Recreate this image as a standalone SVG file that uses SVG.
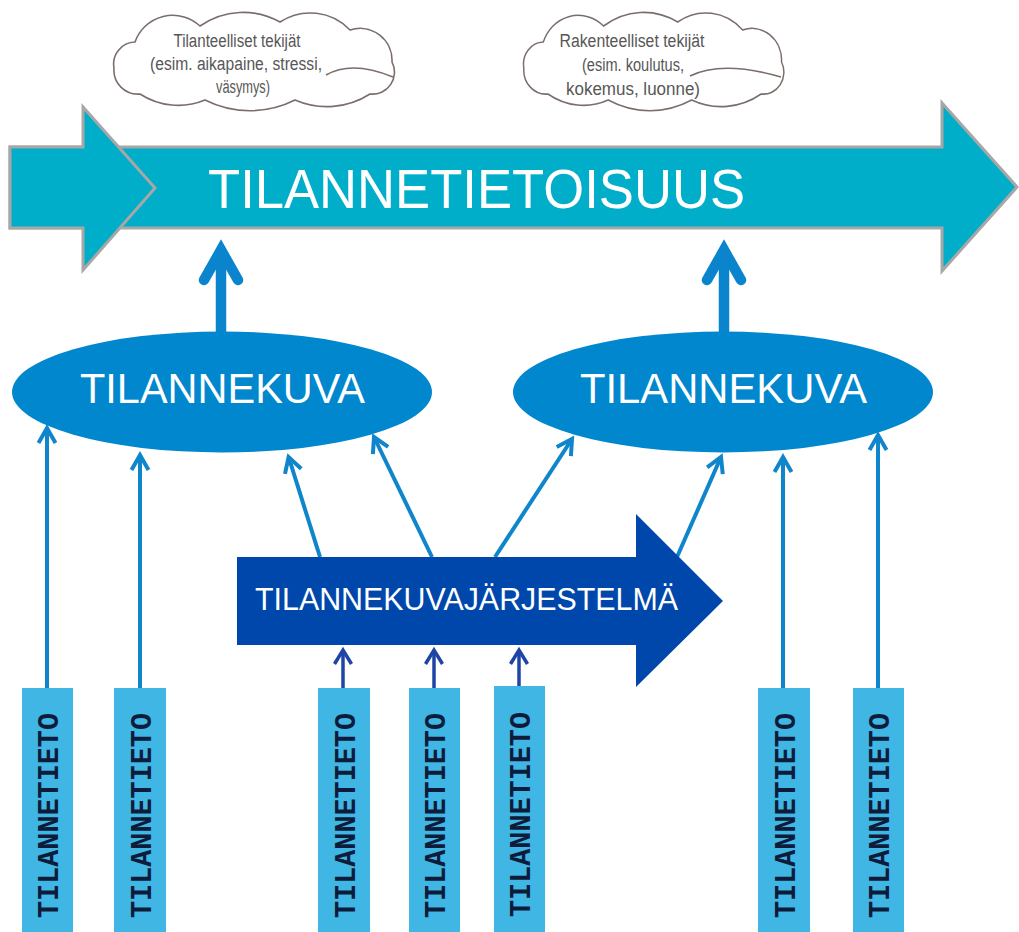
<svg xmlns="http://www.w3.org/2000/svg" width="1019" height="932" viewBox="0 0 1019 932">
<style>
.bigarrow{fill:#00AEC9;stroke:#A7A7A7;stroke-width:3;stroke-linejoin:miter}
.cloud{fill:#FFFFFF;stroke:#7A6E6A;stroke-width:1.6}
.hook{fill:none;stroke:#7A6E6A;stroke-width:1.6}
.ctext{font-family:"Liberation Sans",Arial,sans-serif;font-size:18px;fill:#575757;text-anchor:middle}
.ell{fill:#0087CD}
.wtext{font-family:"Liberation Sans",Arial,sans-serif;fill:#FFFFFF;text-anchor:middle}
.box{fill:#40B6E4}
.btext{font-family:"Liberation Mono","DejaVu Sans Mono",monospace;font-weight:bold;font-size:29px;fill:#0E1C3C;text-anchor:middle}
.thin{fill:none;stroke:#0F86CB;stroke-width:4}
.dark{fill:none;stroke:#1E44A6;stroke-width:3.5}
.thick{fill:none;stroke:#0A84CC;stroke-width:10.5}
</style>
<defs>
<marker id="mThin" markerUnits="userSpaceOnUse" markerWidth="40" markerHeight="40" refX="0" refY="0" orient="auto" overflow="visible">
<path d="M-15,-8.5 L0,0 L-15,8.5" fill="none" stroke="#0F86CB" stroke-width="4" stroke-linejoin="miter"/>
</marker>
<marker id="mDark" markerUnits="userSpaceOnUse" markerWidth="40" markerHeight="40" refX="0" refY="0" orient="auto" overflow="visible">
<path d="M-14,-8.5 L0,0 L-14,8.5" fill="none" stroke="#1E44A6" stroke-width="3.5" stroke-linejoin="miter"/>
</marker>
<path id="cloudShape" d="M23,28 A40,40 0 0 1 88,12 A75,75 0 0 1 168,8 A55,55 0 0 1 238,16 A32,32 0 0 1 280,48 A22,22 0 0 1 258,80 A80,80 0 0 1 183,86 A100,100 0 0 1 93,86 A70,70 0 0 1 28,80 A24,24 0 0 1 2,54 A22,22 0 0 1 23,28 Z"/>
</defs>

<g id="node-tilannetietoisuus">
<polygon class="bigarrow" points="10,147 942,147 942,103 1017,187 942,271 942,228 10,228"/>
<polygon class="bigarrow" points="10,147 83,147 83,107 155,188 83,270 83,228 10,228"/>
<text class="wtext" x="476.5" y="208" font-size="56" textLength="537" lengthAdjust="spacingAndGlyphs">TILANNETIETOISUUS</text>
</g>

<g id="cloud-tilanteelliset">
<use href="#cloudShape" class="cloud" transform="translate(112,14)"/>
<path class="hook" d="M326,75 Q352,60 393,77"/>
<text class="ctext" x="237" y="47" textLength="127" lengthAdjust="spacingAndGlyphs">Tilanteelliset tekijät</text>
<text class="ctext" x="236" y="70" textLength="172" lengthAdjust="spacingAndGlyphs">(esim. aikapaine, stressi,</text>
<text class="ctext" x="243" y="93" textLength="54" lengthAdjust="spacingAndGlyphs">väsymys)</text>
</g>

<g id="cloud-rakenteelliset">
<use href="#cloudShape" class="cloud" transform="translate(522,14) scale(0.927,1)" style="vector-effect:non-scaling-stroke"/>
<path class="hook" d="M690,76 Q722,60 781,77"/>
<text class="ctext" x="632" y="47" textLength="145" lengthAdjust="spacingAndGlyphs">Rakenteelliset tekijät</text>
<text class="ctext" x="633" y="71" textLength="102" lengthAdjust="spacingAndGlyphs">(esim. koulutus,</text>
<text class="ctext" x="633" y="95" textLength="134" lengthAdjust="spacingAndGlyphs">kokemus, luonne)</text>
</g>

<g id="connectors">
<line class="thick" x1="221" y1="334" x2="221" y2="252"/>
<polyline class="thick" points="204,280 221,250 238,280" stroke-linecap="round" stroke-linejoin="miter"/>
<line class="thick" x1="724" y1="334" x2="724" y2="252"/>
<polyline class="thick" points="707,280 724,250 741,280" stroke-linecap="round" stroke-linejoin="miter"/>

<line class="thin" x1="47" y1="690" x2="47" y2="428" marker-end="url(#mThin)"/>
<line class="thin" x1="140" y1="690" x2="140" y2="455" marker-end="url(#mThin)"/>
<line class="thin" x1="320" y1="557" x2="288.6" y2="457" marker-end="url(#mThin)"/>
<line class="thin" x1="432" y1="557" x2="374" y2="437" marker-end="url(#mThin)"/>
<line class="thin" x1="495" y1="557" x2="572" y2="439" marker-end="url(#mThin)"/>
<line class="thin" x1="677" y1="557" x2="721" y2="457" marker-end="url(#mThin)"/>
<line class="thin" x1="783" y1="690" x2="783" y2="457" marker-end="url(#mThin)"/>
<line class="thin" x1="878" y1="690" x2="878" y2="435" marker-end="url(#mThin)"/>

<line class="dark" x1="343" y1="690" x2="343" y2="650" marker-end="url(#mDark)"/>
<line class="dark" x1="434" y1="690" x2="434" y2="650" marker-end="url(#mDark)"/>
<line class="dark" x1="519" y1="688" x2="519" y2="650" marker-end="url(#mDark)"/>
</g>

<g id="node-tilannekuva-1">
<ellipse class="ell" cx="222" cy="392" rx="210" ry="60.5"/>
<text class="wtext" x="222.5" y="403" font-size="42" textLength="285" lengthAdjust="spacingAndGlyphs">TILANNEKUVA</text>
</g>

<g id="node-tilannekuva-2">
<ellipse class="ell" cx="723" cy="392" rx="210" ry="60.5"/>
<text class="wtext" x="723.5" y="403" font-size="42" textLength="287" lengthAdjust="spacingAndGlyphs">TILANNEKUVA</text>
</g>

<g id="node-jarjestelma">
<polygon fill="#0047AB" points="237,557 636,557 636,514 723,601 636,687 636,645 237,645"/>
<text class="wtext" x="466.5" y="610" font-size="32" textLength="423" lengthAdjust="spacingAndGlyphs">TILANNEKUVAJÄRJESTELMÄ</text>
</g>

<g id="node-tieto-1">
<rect class="box" x="22" y="688" width="51" height="244"/>
<text class="btext" transform="translate(58,815.5) rotate(-90)" textLength="205" lengthAdjust="spacingAndGlyphs">TILANNETIETO</text>
</g>
<g id="node-tieto-2">
<rect class="box" x="114" y="688" width="52" height="244"/>
<text class="btext" transform="translate(150.5,815.5) rotate(-90)" textLength="205" lengthAdjust="spacingAndGlyphs">TILANNETIETO</text>
</g>
<g id="node-tieto-3">
<rect class="box" x="318" y="688" width="52" height="244"/>
<text class="btext" transform="translate(354.5,815.5) rotate(-90)" textLength="205" lengthAdjust="spacingAndGlyphs">TILANNETIETO</text>
</g>
<g id="node-tieto-4">
<rect class="box" x="409" y="688" width="51" height="244"/>
<text class="btext" transform="translate(445,815.5) rotate(-90)" textLength="205" lengthAdjust="spacingAndGlyphs">TILANNETIETO</text>
</g>
<g id="node-tieto-5">
<rect class="box" x="494" y="686" width="51" height="246"/>
<text class="btext" transform="translate(530,814.5) rotate(-90)" textLength="205" lengthAdjust="spacingAndGlyphs">TILANNETIETO</text>
</g>
<g id="node-tieto-6">
<rect class="box" x="758" y="688" width="52" height="244"/>
<text class="btext" transform="translate(794.5,815.5) rotate(-90)" textLength="205" lengthAdjust="spacingAndGlyphs">TILANNETIETO</text>
</g>
<g id="node-tieto-7">
<rect class="box" x="853" y="688" width="51" height="244"/>
<text class="btext" transform="translate(889,815.5) rotate(-90)" textLength="205" lengthAdjust="spacingAndGlyphs">TILANNETIETO</text>
</g>
</svg>
